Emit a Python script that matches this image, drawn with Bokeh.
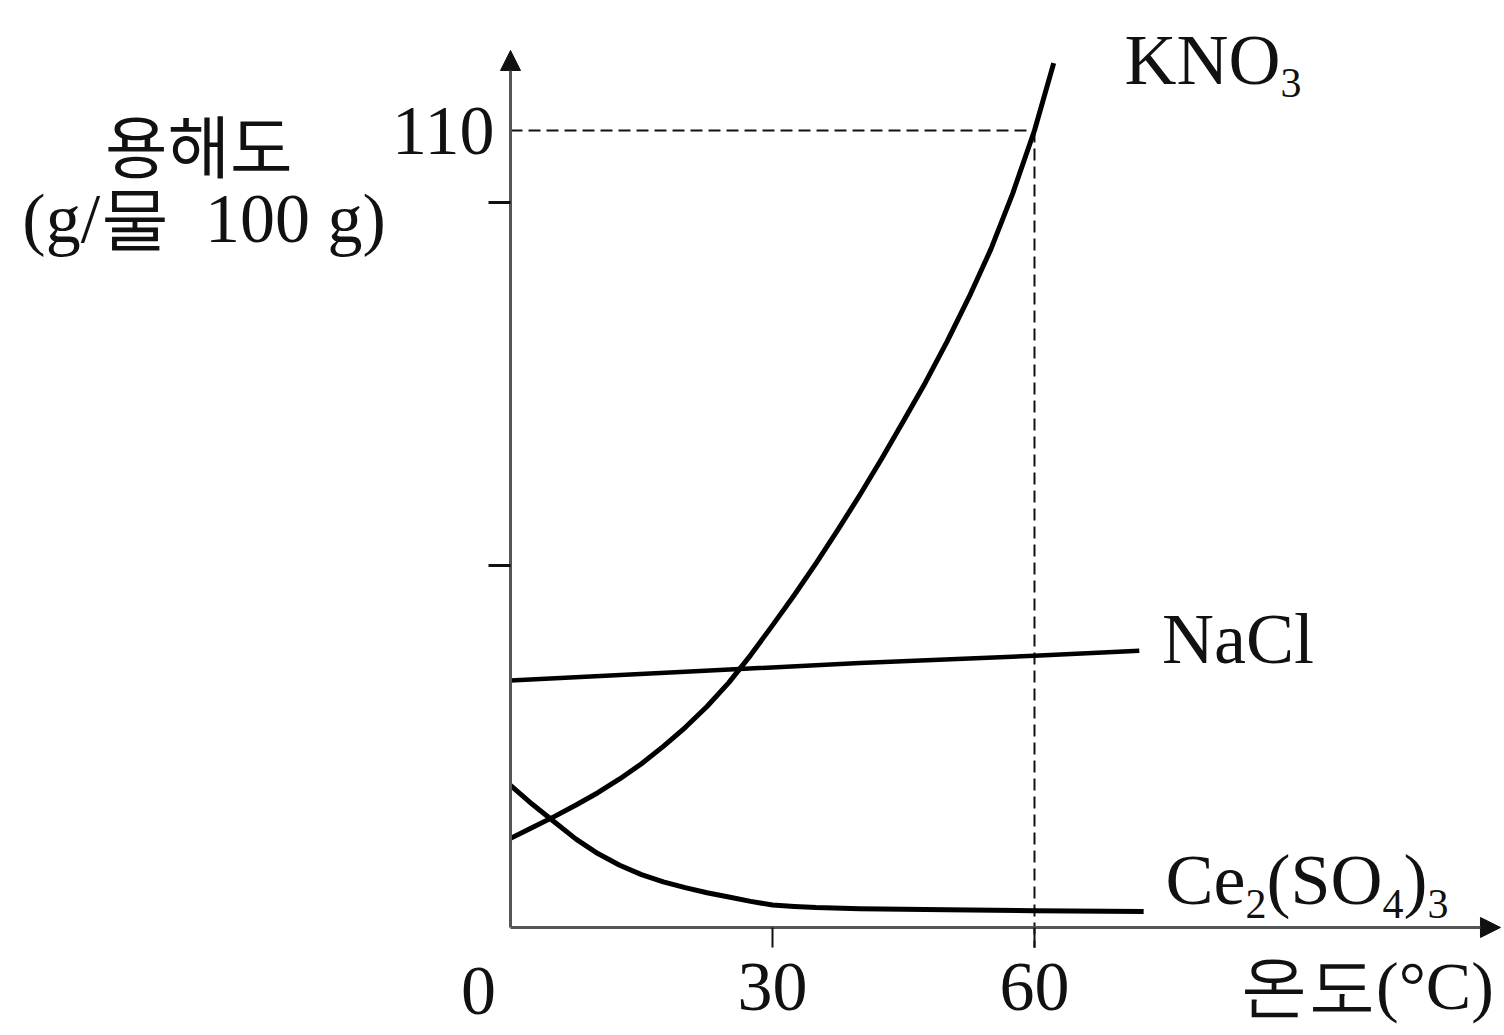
from bokeh.plotting import figure
from bokeh.models import (Range1d, FixedTicker, Label, Arrow, NormalHead, LinearAxis)
from bokeh.embed import file_html
from bokeh.resources import INLINE

# ---------------- data ----------------
kno3_t = [0, 2.5, 5, 7.5, 10, 12.5, 15, 17.5, 20, 22.5, 25, 27.5, 30, 32.5, 35, 37.5,
          40, 42.5, 45, 47.5, 50, 52.5, 55, 57.5, 60, 62.2]
kno3_s = [12.3, 13.8, 15.3, 16.9, 18.6, 20.5, 22.6, 25.0, 27.6, 30.5, 33.8, 37.6, 41.7,
          45.9, 50.3, 54.9, 59.7, 64.7, 69.9, 75.2, 80.9, 87.0, 93.6, 101.3, 110.0, 119.3]

nacl_t = [0, 20, 40, 60, 72]
nacl_s = [34.1, 35.3, 36.5, 37.5, 38.2]

ce_t = [0, 2.5, 5, 7.5, 10, 12.5, 15, 17.5, 20, 22.5, 25, 27.5, 30, 32.5, 35, 40, 50, 60, 72.5]
ce_s = [19.6, 17.0, 14.6, 12.2, 10.2, 8.6, 7.3, 6.3, 5.5, 4.8, 4.2, 3.6, 3.1, 2.9, 2.75,
        2.6, 2.45, 2.3, 2.2]

x_ticks = [30, 60]
x_tick_labels = {30: "30", 60: "60"}
y_major = [110]
y_minor = [50, 100]
ref_t, ref_s = 60, 110

SERIF = "Liberation Serif"
KR = "Noto Sans CJK KR"
INK = "#111111"
AXIS = "#555555"

p = figure(width=1504, height=1035, output_backend="svg", toolbar_location=None,
           x_range=Range1d(-58.40, 113.82), y_range=Range1d(-14.91, 127.95),
           x_axis_type=None, y_axis_type=None,
           min_border=0, min_border_left=0, min_border_right=0,
           min_border_top=0, min_border_bottom=0)
p.outline_line_color = None
p.background_fill_color = "white"
p.border_fill_color = "white"
p.xgrid.visible = False
p.ygrid.visible = False

# axes (drawn at the origin)
xax = LinearAxis(ticker=FixedTicker(ticks=x_ticks), major_label_overrides=x_tick_labels,
                 fixed_location=0, bounds=(0, 112.5))
xax.axis_line_color = AXIS
xax.axis_line_width = 3
xax.major_tick_out = 20
xax.major_tick_in = 0
xax.major_tick_line_color = INK
xax.major_tick_line_width = 2
xax.minor_tick_out = 0
xax.minor_tick_in = 0
xax.major_label_text_font = SERIF
xax.major_label_text_font_size = "70px"
xax.major_label_text_color = INK
xax.major_label_standoff = 17
p.add_layout(xax, "below")

yax = LinearAxis(ticker=FixedTicker(ticks=y_major, minor_ticks=y_minor),
                 fixed_location=0, bounds=(0, 120.0))
yax.axis_line_color = AXIS
yax.axis_line_width = 3
yax.major_tick_out = 0
yax.major_tick_in = 0
yax.minor_tick_out = 22
yax.minor_tick_in = 0
yax.minor_tick_line_color = INK
yax.minor_tick_line_width = 3
yax.major_label_text_font = SERIF
yax.major_label_text_font_size = "70px"
yax.major_label_text_color = INK
yax.major_label_standoff = -6
p.add_layout(yax, "left")

# axis arrow heads
p.add_layout(Arrow(x_start=0, y_start=117, x_end=0, y_end=121.05, line_color=AXIS, line_width=3,
                   end=NormalHead(size=20, fill_color=INK, line_color=INK, line_width=1)))
p.add_layout(Arrow(x_start=110, y_start=0, x_end=113.36, y_end=0, line_color=AXIS, line_width=3,
                   end=NormalHead(size=20, fill_color=INK, line_color=INK, line_width=1)))

# dashed reference lines
p.line([0, ref_t], [ref_s, ref_s], line_color=INK, line_width=2, line_dash="12 6")
p.line([ref_t, ref_t], [ref_s, -2.8], line_color=INK, line_width=2, line_dash="12 6")

# curves
p.line(kno3_t, kno3_s, line_color="black", line_width=5, line_join="round")
p.line(nacl_t, nacl_s, line_color="black", line_width=4.5, line_join="round")
p.line(ce_t, ce_s, line_color="black", line_width=5, line_join="round")

# labels
BL = 0.36  # baseline compensation (em)
TW = {'K': 722, 'N': 722, 'O': 722, 'a': 444, 'C': 667, 'l': 278, 'e': 444,
      '(': 333, ')': 333, 'S': 556, '2': 500, '3': 500, '4': 500}

def label(x, y, text, size, font=SERIF, align="left", xo=0.0, yo=0.0):
    p.add_layout(Label(x=x, y=y, x_offset=xo, y_offset=yo + BL * size, text=text,
                       text_font=font, text_font_size=f"{size}px", text_color=INK,
                       text_align=align, text_baseline="alphabetic"))

def chem(x, y, pieces, main=72, sub=42, drop=12):
    off = 0.0
    for text, is_sub in pieces:
        size = sub if is_sub else main
        label(x, y, text, size, xo=off, yo=-drop if is_sub else 0)
        off += sum(TW[c] for c in text) / 1000.0 * size

chem(70.3, 116.2, [("KNO", False), ("3", True)])
chem(74.6, 36.2, [("NaCl", False)])
chem(75.0, 3.0, [("Ce", False), ("2", True), ("(SO", False), ("4", True), (")", False), ("3", True)], drop=13)

label(0, 0, "0", 70, align="center", xo=-32, yo=-89)
label(-35.7, 104.8, "용해도", 68, font=KR, align="center")
label(-55.9, 94.4, "(g/물\u2002100 g)", 70)
label(112.6, -11.5, "온도(°C)", 68, align="right")

open("out.html", "w").write(file_html(p, INLINE))
